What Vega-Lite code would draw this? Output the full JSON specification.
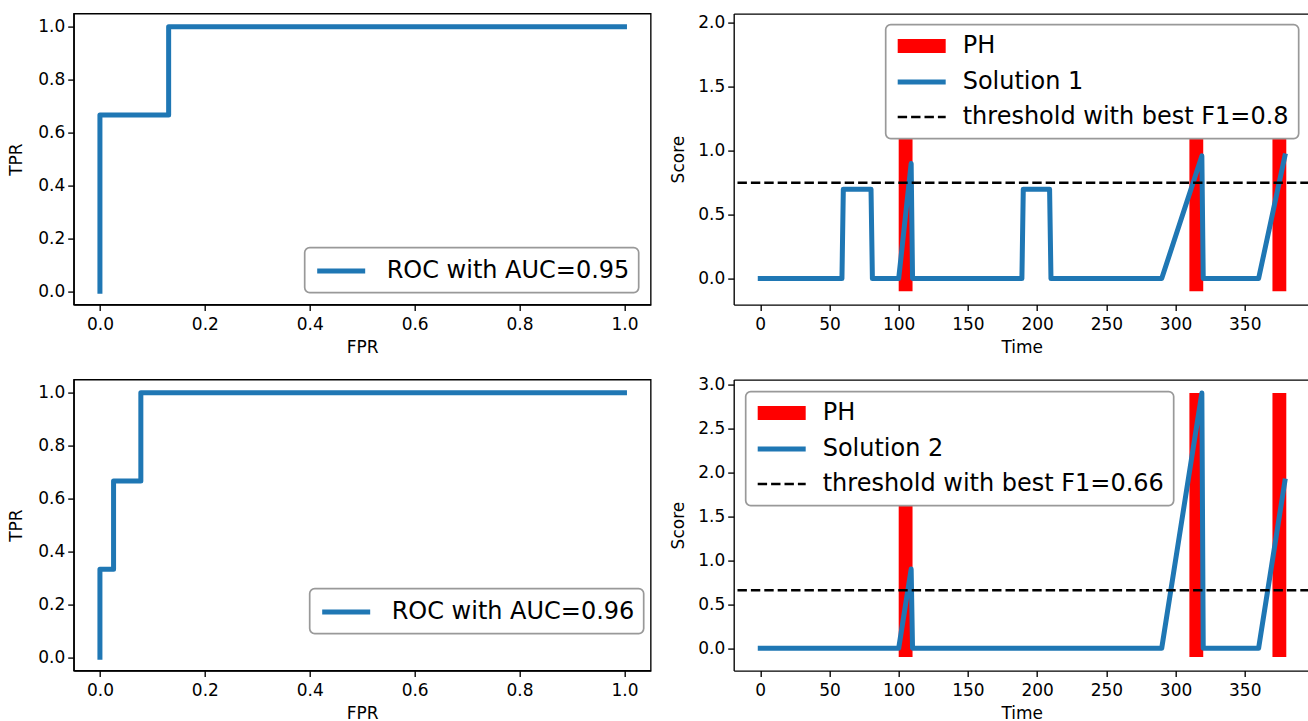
{
  "$schema": "https://vega.github.io/schema/vega-lite/v6.json",
  "background": "white",
  "padding": {"left": 6.7, "top": 12.6, "right": 0, "bottom": 0},
  "datasets": {
    "roc1": [
      {"fpr": 0, "tpr": 0, "i": 0, "series": "ROC with AUC=0.95"},
      {"fpr": 0, "tpr": 0.667, "i": 1, "series": "ROC with AUC=0.95"},
      {"fpr": 0.131, "tpr": 0.667, "i": 2, "series": "ROC with AUC=0.95"},
      {"fpr": 0.131, "tpr": 1, "i": 3, "series": "ROC with AUC=0.95"},
      {"fpr": 1, "tpr": 1, "i": 4, "series": "ROC with AUC=0.95"}
    ],
    "roc2": [
      {"fpr": 0, "tpr": 0, "i": 0, "series": "ROC with AUC=0.96"},
      {"fpr": 0, "tpr": 0.333, "i": 1, "series": "ROC with AUC=0.96"},
      {"fpr": 0.026, "tpr": 0.333, "i": 2, "series": "ROC with AUC=0.96"},
      {"fpr": 0.026, "tpr": 0.667, "i": 3, "series": "ROC with AUC=0.96"},
      {"fpr": 0.078, "tpr": 0.667, "i": 4, "series": "ROC with AUC=0.96"},
      {"fpr": 0.078, "tpr": 1, "i": 5, "series": "ROC with AUC=0.96"},
      {"fpr": 1, "tpr": 1, "i": 6, "series": "ROC with AUC=0.96"}
    ],
    "ph1": [
      {"start": 100, "end": 110, "low": -0.1, "high": 1.97},
      {"start": 310, "end": 320, "low": -0.1, "high": 1.97},
      {"start": 370, "end": 380, "low": -0.1, "high": 1.97}
    ],
    "ph2": [
      {"start": 100, "end": 110, "low": -0.1, "high": 2.9},
      {"start": 310, "end": 320, "low": -0.1, "high": 2.9},
      {"start": 370, "end": 380, "low": -0.1, "high": 2.9}
    ],
    "sol1": [
      {"t": 0, "score": 0}, {"t": 59, "score": 0}, {"t": 60, "score": 0.7}, {"t": 80, "score": 0.7},
      {"t": 81, "score": 0}, {"t": 100, "score": 0}, {"t": 109, "score": 0.9}, {"t": 110, "score": 0},
      {"t": 189, "score": 0}, {"t": 190, "score": 0.7}, {"t": 209, "score": 0.7}, {"t": 210, "score": 0},
      {"t": 290, "score": 0}, {"t": 319, "score": 0.96}, {"t": 320, "score": 0}, {"t": 360, "score": 0},
      {"t": 379, "score": 0.96}
    ],
    "sol2": [
      {"t": 0, "score": 0}, {"t": 100, "score": 0}, {"t": 109, "score": 0.9}, {"t": 110, "score": 0},
      {"t": 290, "score": 0}, {"t": 319, "score": 2.9}, {"t": 320, "score": 0}, {"t": 360, "score": 0},
      {"t": 379, "score": 1.9}
    ],
    "thr1": [{"y": 0.75}],
    "thr2": [{"y": 0.66}],
    "leg1": [{"series": "PH"}, {"series": "Solution 1"}, {"series": "threshold with best F1=0.8"}],
    "leg2": [{"series": "PH"}, {"series": "Solution 2"}, {"series": "threshold with best F1=0.66"}]
  },
  "columns": 2,
  "spacing": {"row": 75, "column": 83},
  "bounds": "flush",
  "resolve": {
    "scale": {"x": "independent", "y": "independent", "color": "independent", "fill": "independent", "stroke": "independent", "shape": "independent", "strokeDash": "independent", "strokeWidth": "independent"},
    "axis": {"x": "independent", "y": "independent"},
    "legend": {"color": "independent", "fill": "independent", "stroke": "independent", "shape": "independent", "strokeDash": "independent", "strokeWidth": "independent"}
  },
  "concat": [
    {
      "width": 577,
      "height": 291,
      "data": {"name": "roc1"},
      "mark": {"type": "line", "strokeWidth": 5, "strokeJoin": "round", "strokeCap": "square"},
      "encoding": {
        "x": {"field": "fpr", "type": "quantitative", "scale": {"domain": [-0.05, 1.05], "nice": false, "zero": false},
              "axis": {"title": "FPR", "values": [0, 0.2, 0.4, 0.6, 0.8, 1.0], "format": ".1f"}},
        "y": {"field": "tpr", "type": "quantitative", "scale": {"domain": [-0.05, 1.05], "nice": false, "zero": false},
              "axis": {"title": "TPR", "values": [0, 0.2, 0.4, 0.6, 0.8, 1.0], "format": ".1f", "titlePadding": 12}},
        "order": {"field": "i", "type": "quantitative"},
        "color": {"field": "series", "type": "nominal", "scale": {"range": ["#1f77b4"]},
                  "legend": {"title": null, "orient": "bottom-right", "offset": 12, "symbolType": "M-0.917,0H3.083", "symbolStrokeWidth": 5}}
      }
    },
    {
      "width": 576,
      "height": 291,
      "view": {"stroke": null},
      "resolve": {"axis": {"x": "independent"}},
      "layer": [
        {
          "data": {"name": "ph1"},
          "mark": {"type": "rect", "color": "red", "opacity": 1},
          "encoding": {
            "x": {"field": "start", "type": "quantitative", "scale": {"domain": [-19.2, 396.9], "nice": false, "zero": false},
                  "axis": {"title": "Time", "values": [0, 50, 100, 150, 200, 250, 300, 350]}},
            "x2": {"field": "end"},
            "y": {"field": "low", "type": "quantitative", "scale": {"domain": [-0.2035, 2.0735], "nice": false, "zero": false},
                  "axis": {"title": "Score", "values": [0, 0.5, 1.0, 1.5, 2.0], "format": ".1f", "titlePadding": 10}},
            "y2": {"field": "high"}
          }
        },
        {
          "data": {"name": "sol1"},
          "mark": {"type": "line", "color": "#1f77b4", "strokeWidth": 5, "strokeJoin": "round", "strokeCap": "square"},
          "encoding": {
            "x": {"field": "t", "type": "quantitative",
                  "axis": {"orient": "top", "labels": false, "ticks": false, "title": null, "domain": true}},
            "y": {"field": "score", "type": "quantitative"}
          }
        },
        {
          "data": {"name": "thr1"},
          "mark": {"type": "rule", "color": "black", "strokeWidth": 2.5, "strokeDash": [9.4, 4]},
          "encoding": {
            "y": {"field": "y", "type": "quantitative"}
          }
        },
        {
          "data": {"name": "leg1"},
          "mark": {"type": "point", "filled": true, "opacity": 0},
          "encoding": {
            "fill": {"field": "series", "type": "nominal",
                     "scale": {"domain": ["PH", "Solution 1", "threshold with best F1=0.8"], "range": ["red", "#1f77b4", "black"]},
                     "legend": {"title": null, "orient": "top-right", "offset": 11, "symbolOpacity": 1, "padding": 9, "rowPadding": 9, "labelOffset": 39}},
            "stroke": {"field": "series", "type": "nominal",
                       "scale": {"domain": ["PH", "Solution 1", "threshold with best F1=0.8"], "range": ["red", "#1f77b4", "black"]},
                       "legend": {"title": null, "orient": "top-right", "offset": 11, "symbolOpacity": 1, "padding": 9, "rowPadding": 9, "labelOffset": 39}},
            "shape": {"field": "series", "type": "nominal",
                      "scale": {"domain": ["PH", "Solution 1", "threshold with best F1=0.8"], "range": ["M-0.958,-0.583H3.042V0.583H-0.958Z", "M-0.958,0H3.042", "M-0.958,0H3.042"]},
                      "legend": {"title": null, "orient": "top-right", "offset": 11, "symbolOpacity": 1, "padding": 9, "rowPadding": 9, "labelOffset": 39}},
            "strokeDash": {"field": "series", "type": "nominal",
                           "scale": {"domain": ["PH", "Solution 1", "threshold with best F1=0.8"], "range": [[1, 0], [1, 0], [9.4, 4]]},
                           "legend": {"title": null, "orient": "top-right", "offset": 11, "symbolOpacity": 1, "padding": 9, "rowPadding": 9, "labelOffset": 39}},
            "strokeWidth": {"field": "series", "type": "ordinal",
                            "scale": {"type": "ordinal", "domain": ["PH", "Solution 1", "threshold with best F1=0.8"], "range": [0.01, 5, 2.5]},
                            "legend": {"title": null, "orient": "top-right", "offset": 11, "symbolOpacity": 1, "padding": 9, "rowPadding": 9, "labelOffset": 39}}
          }
        }
      ]
    },
    {
      "width": 577,
      "height": 291,
      "data": {"name": "roc2"},
      "mark": {"type": "line", "strokeWidth": 5, "strokeJoin": "round", "strokeCap": "square"},
      "encoding": {
        "x": {"field": "fpr", "type": "quantitative", "scale": {"domain": [-0.05, 1.05], "nice": false, "zero": false},
              "axis": {"title": "FPR", "values": [0, 0.2, 0.4, 0.6, 0.8, 1.0], "format": ".1f"}},
        "y": {"field": "tpr", "type": "quantitative", "scale": {"domain": [-0.05, 1.05], "nice": false, "zero": false},
              "axis": {"title": "TPR", "values": [0, 0.2, 0.4, 0.6, 0.8, 1.0], "format": ".1f", "titlePadding": 12}},
        "order": {"field": "i", "type": "quantitative"},
        "color": {"field": "series", "type": "nominal", "scale": {"range": ["#1f77b4"]},
                  "legend": {"title": null, "orient": "none", "legendX": 236, "legendY": 209, "symbolType": "M-0.917,0H3.083", "symbolStrokeWidth": 5}}
      }
    },
    {
      "width": 576,
      "height": 291,
      "view": {"stroke": null},
      "resolve": {"axis": {"x": "independent"}},
      "layer": [
        {
          "data": {"name": "ph2"},
          "mark": {"type": "rect", "color": "red", "opacity": 1},
          "encoding": {
            "x": {"field": "start", "type": "quantitative", "scale": {"domain": [-19.2, 396.9], "nice": false, "zero": false},
                  "axis": {"title": "Time", "values": [0, 50, 100, 150, 200, 250, 300, 350]}},
            "x2": {"field": "end"},
            "y": {"field": "low", "type": "quantitative", "scale": {"domain": [-0.254, 3.053], "nice": false, "zero": false},
                  "axis": {"title": "Score", "values": [0, 0.5, 1.0, 1.5, 2.0, 2.5, 3.0], "format": ".1f", "titlePadding": 10}},
            "y2": {"field": "high"}
          }
        },
        {
          "data": {"name": "sol2"},
          "mark": {"type": "line", "color": "#1f77b4", "strokeWidth": 5, "strokeJoin": "round", "strokeCap": "square"},
          "encoding": {
            "x": {"field": "t", "type": "quantitative",
                  "axis": {"orient": "top", "labels": false, "ticks": false, "title": null, "domain": true}},
            "y": {"field": "score", "type": "quantitative"}
          }
        },
        {
          "data": {"name": "thr2"},
          "mark": {"type": "rule", "color": "black", "strokeWidth": 2.5, "strokeDash": [9.4, 4]},
          "encoding": {
            "y": {"field": "y", "type": "quantitative"}
          }
        },
        {
          "data": {"name": "leg2"},
          "mark": {"type": "point", "filled": true, "opacity": 0},
          "encoding": {
            "fill": {"field": "series", "type": "nominal",
                     "scale": {"domain": ["PH", "Solution 2", "threshold with best F1=0.66"], "range": ["red", "#1f77b4", "black"]},
                     "legend": {"title": null, "orient": "top-left", "offset": 12, "symbolOpacity": 1, "padding": 9, "rowPadding": 9, "labelOffset": 39}},
            "stroke": {"field": "series", "type": "nominal",
                       "scale": {"domain": ["PH", "Solution 2", "threshold with best F1=0.66"], "range": ["red", "#1f77b4", "black"]},
                       "legend": {"title": null, "orient": "top-left", "offset": 12, "symbolOpacity": 1, "padding": 9, "rowPadding": 9, "labelOffset": 39}},
            "shape": {"field": "series", "type": "nominal",
                      "scale": {"domain": ["PH", "Solution 2", "threshold with best F1=0.66"], "range": ["M-0.958,-0.583H3.042V0.583H-0.958Z", "M-0.958,0H3.042", "M-0.958,0H3.042"]},
                      "legend": {"title": null, "orient": "top-left", "offset": 12, "symbolOpacity": 1, "padding": 9, "rowPadding": 9, "labelOffset": 39}},
            "strokeDash": {"field": "series", "type": "nominal",
                           "scale": {"domain": ["PH", "Solution 2", "threshold with best F1=0.66"], "range": [[1, 0], [1, 0], [9.4, 4]]},
                           "legend": {"title": null, "orient": "top-left", "offset": 12, "symbolOpacity": 1, "padding": 9, "rowPadding": 9, "labelOffset": 39}},
            "strokeWidth": {"field": "series", "type": "ordinal",
                            "scale": {"type": "ordinal", "domain": ["PH", "Solution 2", "threshold with best F1=0.66"], "range": [0.01, 5, 2.5]},
                            "legend": {"title": null, "orient": "top-left", "offset": 12, "symbolOpacity": 1, "padding": 9, "rowPadding": 9, "labelOffset": 39}}
          }
        }
      ]
    }
  ],
  "config": {
    "font": "DejaVu Sans",
    "view": {"stroke": "black", "strokeWidth": 1.35},
    "axis": {
      "grid": false, "domainColor": "black", "domainWidth": 1.35, "tickColor": "black", "tickWidth": 1.35, "tickSize": 6,
      "labelColor": "black", "labelFont": "DejaVu Sans", "labelFontSize": 17, "labelOverlap": false, "labelFlush": false,
      "titleFont": "DejaVu Sans", "titleFontSize": 17, "titleFontWeight": "normal", "titleColor": "black"
    },
    "axisX": {"labelPadding": 6, "titlePadding": 7},
    "axisY": {"labelPadding": 3},
    "legend": {
      "labelFont": "DejaVu Sans", "labelFontSize": 24, "labelColor": "black", "labelLimit": 1000,
      "padding": 9, "rowPadding": 5.5, "labelOffset": 44, "symbolSize": 576,
      "strokeColor": "#999999", "strokeWidth": 1.7, "fillColor": "white", "cornerRadius": 5
    }
  }
}
